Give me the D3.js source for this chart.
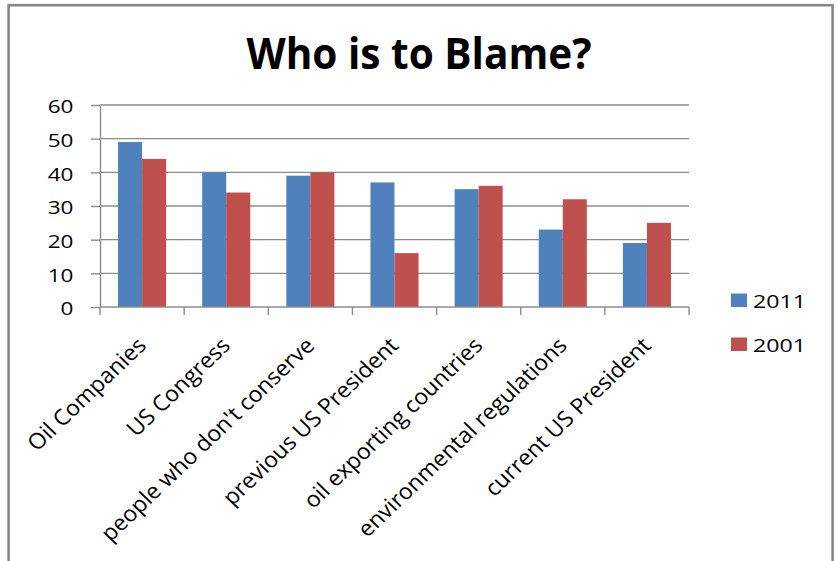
<!DOCTYPE html>
<html>
<head>
<meta charset="utf-8">
<script src="https://cdn.jsdelivr.net/npm/d3@7"></script>
<style>
  body { margin: 0; background: #fff; }
  text { font-family: 'Open Sans', sans-serif; fill: #000; }
</style>
</head>
<body>
<div id="chart"></div>
<script>

  // data
  var categories = [
      'Oil Companies'
    , 'US Congress'
    , 'people who don\'t conserve'
    , 'previous US President'
    , 'oil exporting countries'
    , 'environmental regulations'
    , 'current US President'
  ];
  var seriesNames = ['2011', '2001'];
  var values2011 = [49, 40, 39, 37, 35, 23, 19];
  var values2001 = [44, 34, 40, 16, 36, 32, 25];
  var yTicks = [0, 10, 20, 30, 40, 50, 60];
  var colors = ['#4F81BD', '#C0504D'];


  var width = 838
    , height = 561
    , plot = { left: 100, right: 689, top: 105, bottom: 307 }
    , stretch = 1.22   // the source picture is stretched sideways
    , gridColor = '#8c8c8c';

  var seriesValues = [values2011, values2001];


  var svg = d3.select('#chart').append('svg')
      .attr('width', width)
      .attr('height', height);

  svg.append('rect')
      .attr('width', width)
      .attr('height', height)
      .attr('fill', '#fff');

  // outer frame
  svg.append('rect')
      .attr('x', 8.6)
      .attr('y', 5.2)
      .attr('width', 824)
      .attr('height', 620)
      .attr('fill', 'none')
      .attr('stroke', '#878787')
      .attr('stroke-width', 2.6);


  /**
   * Scales
   */
  var x = d3.scaleBand()
      .domain(categories)
      .range([plot.left, plot.right]);

  // Excel gap width 150%
  var x1 = d3.scaleBand()
      .domain(seriesNames)
      .range([0, x.bandwidth()])
      .paddingInner(0)
      .paddingOuter(0.75);

  var y = d3.scaleLinear()
      .domain([0, 60])
      .range([plot.bottom, plot.top]);


  // gridlines
  svg.append('g').selectAll('line')
      .data(yTicks.filter(function(d) { return d > 0; }))
    .enter().append('line')
      .attr('x1', plot.left)
      .attr('x2', plot.right)
      .attr('y1', function(d) { return y(d); })
      .attr('y2', function(d) { return y(d); })
      .attr('stroke', gridColor)
      .attr('stroke-width', 1.4);


  // bars
  var groups = svg.append('g').selectAll('g')
      .data(categories)
    .enter().append('g')
      .attr('transform', function(d) { return 'translate(' + x(d) + ',0)'; });

  groups.selectAll('rect')
      .data(function(d, i) {
        return seriesNames.map(function(s, j) {
          return { key: s, index: j, value: seriesValues[j][i] };
        });
      })
    .enter().append('rect')
      .attr('x', function(d) { return x1(d.key); })
      .attr('width', x1.bandwidth())
      .attr('y', function(d) { return y(d.value); })
      .attr('height', function(d) { return y(0) - y(d.value); })
      .attr('fill', function(d) { return colors[d.index]; });


  /**
   * Y axis
   */
  var yAxis = svg.append('g')
      .attr('transform', 'translate(' + plot.left + ',0)')
      .call(d3.axisLeft(y).tickValues(yTicks).tickSize(9).tickSizeOuter(0));

  yAxis.select('.domain').attr('stroke', gridColor).attr('stroke-width', 1.4);
  yAxis.selectAll('.tick line').attr('stroke', gridColor).attr('stroke-width', 1.4);
  yAxis.selectAll('.tick text')
      .attr('x', null)
      .attr('dy', '0.43em')
      .attr('transform', 'translate(-26.5,0) scale(' + stretch + ',1)')
      .style('font-size', '18.5px')
      .style('font-family', '\'Open Sans\', sans-serif')
      .attr('fill', '#000');


  /**
   * X axis: line plus ticks on the category borders
   */
  var xAxis = svg.append('g');

  xAxis.append('line')
      .attr('x1', plot.left)
      .attr('x2', plot.right)
      .attr('y1', y(0))
      .attr('y2', y(0))
      .attr('stroke', gridColor)
      .attr('stroke-width', 1.4);

  xAxis.selectAll('.xtick')
      .data(categories.map(function(d) { return x(d); }).concat([plot.right]))
    .enter().append('line')
      .attr('class', 'xtick')
      .attr('x1', function(d) { return d; })
      .attr('x2', function(d) { return d; })
      .attr('y1', y(0))
      .attr('y2', y(0) + 8)
      .attr('stroke', gridColor)
      .attr('stroke-width', 1.4);

  // rotated category names, end of text sits under the category centre
  xAxis.selectAll('text')
      .data(categories)
    .enter().append('text')
      .attr('transform', function(d) {
        return 'translate(' + (x(d) + x.bandwidth() / 2 - 6) + ',336) scale(1.05,1) rotate(-45)';
      })
      .attr('text-anchor', 'end')
      .attr('dy', '0.7em')
      .style('font-size', '22px')
      .text(function(d) { return d; });


  // title
  svg.append('text')
      .attr('x', 419)
      .attr('y', 69)
      .attr('text-anchor', 'middle')
      .attr('textLength', 345)
      .attr('lengthAdjust', 'spacingAndGlyphs')
      .style('font-size', '43px')
      .style('font-weight', 'bold')
      .text('Who is to Blame?');


  /**
   * Legend
   */
  var legend = svg.append('g').selectAll('g')
      .data(seriesNames)
    .enter().append('g')
      .attr('transform', function(d, i) { return 'translate(731,' + (293.5 + i * 44) + ')'; });

  legend.append('rect')
      .attr('width', 16)
      .attr('height', 13.5)
      .attr('fill', function(d, i) { return colors[i]; });

  legend.append('text')
      .attr('transform', 'translate(22,14.5) scale(' + stretch + ',1)')
      .style('font-size', '19px')
      .text(function(d) { return d; });

</script>
</body>
</html>
